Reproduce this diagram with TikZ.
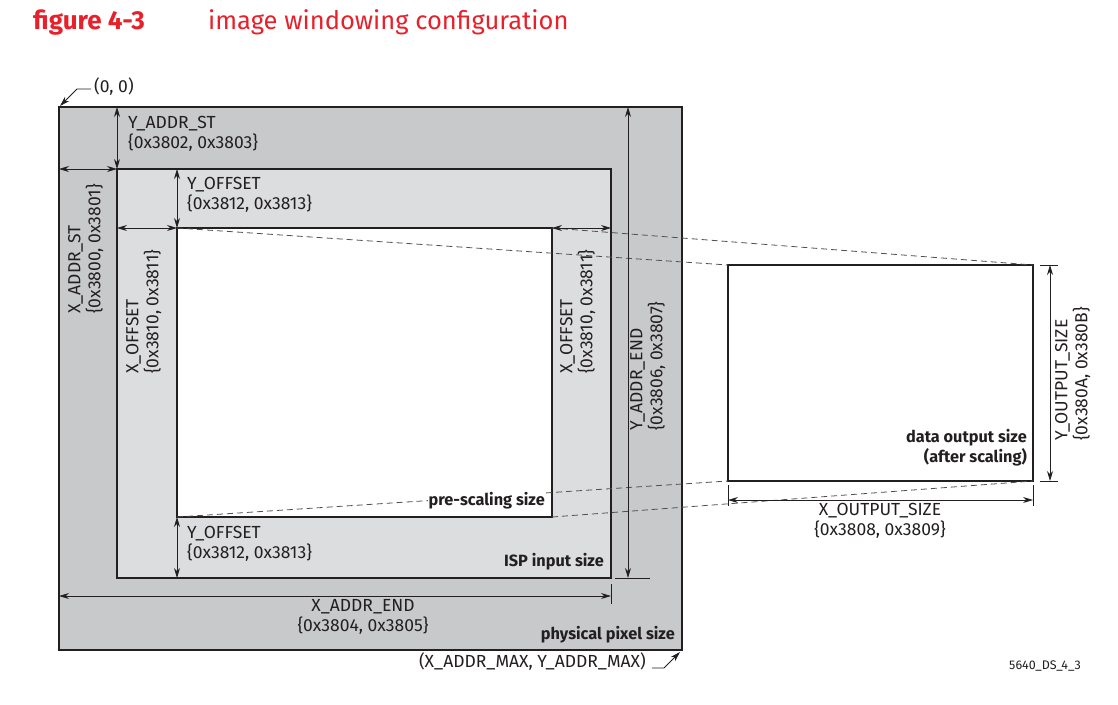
\documentclass[tikz,border=0pt]{standalone}
\usepackage{fontspec}
\setmainfont{Fira Sans}
\usepackage{xcolor}
\usetikzlibrary{arrows.meta, positioning}

\definecolor{figred}{HTML}{E8202A}
\definecolor{phygray}{HTML}{C8C9CB}
\definecolor{ispgray}{HTML}{DCDDDF}
\definecolor{ink}{HTML}{231F20}
\definecolor{projgray}{HTML}{505050}

\newcommand{\lbl}{\fontsize{17.5}{20}\selectfont}
\newcommand{\tag}{\fontsize{16.3}{20.5}\selectfont\bfseries}

\tikzset{
  frame/.style={draw=ink, line width=1.5pt},
  dim/.style={draw=ink, line width=0.8pt, {Stealth[length=10pt,width=6pt]}-{Stealth[length=10pt,width=6pt]}},
  tick/.style={draw=ink, line width=0.8pt},
  proj/.style={draw=projgray, line width=0.8pt, dash pattern=on 6pt off 4pt},
  txt/.style={inner sep=0pt, text=ink, align=left},
  vtxt/.style={txt, rotate=90, anchor=north west},
  sizetag/.style={inner sep=0pt, text=ink, font=\tag, align=right},
  lead/.style={draw=ink, line width=0.8pt, -{Stealth[length=10pt,width=6pt]}}
}

\begin{document}
\begin{tikzpicture}[x=1pt, y=-1pt, font=\lbl]
\useasboundingbox (0,0) rectangle (1118,704);

% title
\node (fignum) [anchor=base west, inner sep=0pt, text=figred, font=\fontsize{26}{30}\selectfont\bfseries] at (33,29) {figure 4-3};
\node (figtitle) [anchor=base west, inner sep=0pt, text=figred, font=\fontsize{25.5}{30}\selectfont] at (208,29) {image windowing configuration};

% frames
\coordinate (phyA) at (59,107);  \coordinate (phyB) at (682,650);
\coordinate (ispA) at (117,169); \coordinate (ispB) at (611,578);
\coordinate (preA) at (177,228); \coordinate (preB) at (552,517);
\coordinate (outA) at (728,265); \coordinate (outB) at (1033,481);
\filldraw[frame, fill=phygray] (phyA) rectangle (phyB);
\filldraw[frame, fill=ispgray] (ispA) rectangle (ispB);
\filldraw[frame, fill=white] (preA) rectangle (preB);
\draw[frame] (outA) rectangle (outB);

% projection pre-scaling -> output
\draw[proj] (preA) -- (outA);
\draw[proj] (preA -| preB) -- (outA -| outB);
\draw[proj] (preA |- preB) -- (outA |- outB);
\draw[proj] (preB) -- (outB);

% start and offset
\draw[dim] (ispA |- phyA) -- (ispA);
\draw[dim] (phyA |- ispA) -- (ispA);
\draw[dim] (preA |- ispA) -- (preA);
\draw[dim] (ispA |- preA) -- (preA);
\draw[dim] (preA -| preB) -- (preA -| ispB);
\draw[dim] (preA |- preB) -- (preA |- ispB);

\node (yst) [txt, anchor=north west] at (128,116) {Y\_ADDR\_ST\\\{0x3802, 0x3803\}};
\node (xst) [vtxt] at (68,314) {X\_ADDR\_ST\\\{0x3800, 0x3801\}};
\node (yoff) [txt, anchor=north west] at (187,177) {Y\_OFFSET\\\{0x3812, 0x3813\}};
\node (xoffl) [vtxt] at (126,374) {X\_OFFSET\\\{0x3810, 0x3811\}};
\node (xoffr) [vtxt] at (560,374) {X\_OFFSET\\\{0x3810, 0x3811\}};
\node (yoffb) [txt, anchor=north west] at (187,526) {Y\_OFFSET\\\{0x3812, 0x3813\}};

% end
\coordinate (yendA) at (628,107); \coordinate (yendB) at (628,578);
\draw[dim] (yendA) -- (yendB);
\draw[tick] ([shift={(-13,0)}]yendB) -- ([shift={(22,0)}]yendB);
\node (yend) [vtxt] at (630,431) {Y\_ADDR\_END\\\{0x3806, 0x3807\}};

\coordinate (xendA) at (59,596); \coordinate (xendB) at (611,596);
\draw[dim] (xendA) -- (xendB);
\draw[tick] ([shift={(0,-12)}]xendB) -- ([shift={(0,8)}]xendB);
\node (xend) [txt, align=center, anchor=north] at (363,599) {X\_ADDR\_END\\\{0x3804, 0x3805\}};

% output size
\coordinate (youtA) at (1050,265); \coordinate (youtB) at (1050,481);
\draw[dim] (youtA) -- (youtB);
\draw[tick] ([shift={(-10,0)}]youtA) -- ([shift={(8,0)}]youtA);
\draw[tick] ([shift={(-10,0)}]youtB) -- ([shift={(8,0)}]youtB);
\node (yout) [vtxt] at (1055,441) {Y\_OUTPUT\_SIZE\\\{0x380A, 0x380B\}};

\coordinate (xoutA) at (728,500); \coordinate (xoutB) at (1033,500);
\draw[dim] (xoutA) -- (xoutB);
\draw[tick] ([shift={(0,-15)}]xoutA) -- ([shift={(0,6)}]xoutA);
\draw[tick] ([shift={(0,-15)}]xoutB) -- ([shift={(0,6)}]xoutB);
\node (xout) [txt, align=center, anchor=north] at (880,503) {X\_OUTPUT\_SIZE\\\{0x3808, 0x3809\}};

% size tags
\node (phytag) [sizetag, anchor=base east] at (675,639) {physical pixel size};
\node (isptag) [sizetag, anchor=base east] at (604,566) {ISP input size};
\node (pretag) [sizetag, anchor=base east, fill=white, inner sep=1pt] at (546,505) {pre-scaling size};
\node (outtag) [sizetag, anchor=north east] at (1027,429) {data output size\\(after scaling)};

% corners
\node (origin) [txt, anchor=west] at (94,87) {(0, 0)};
\coordinate (orgknee) at (77,89);
\draw[lead] ([shift={(-3,2)}]origin.west) -- (orgknee) -- ([shift={(1,-1)}]phyA);
\node (maxpt) [txt, anchor=east] at (646,662) {(X\_ADDR\_MAX, Y\_ADDR\_MAX)};
\coordinate (maxknee) at (664,668);
\draw[lead] ([shift={(6,6)}]maxpt.east) -- (maxknee) -- ([shift={(-2,2)}]phyB);

\node (dsref) [inner sep=0pt, text=ink, font=\fontsize{12.5}{14}\selectfont] at (1045,666) {5640\_DS\_4\_3};
\end{tikzpicture}
\end{document}
